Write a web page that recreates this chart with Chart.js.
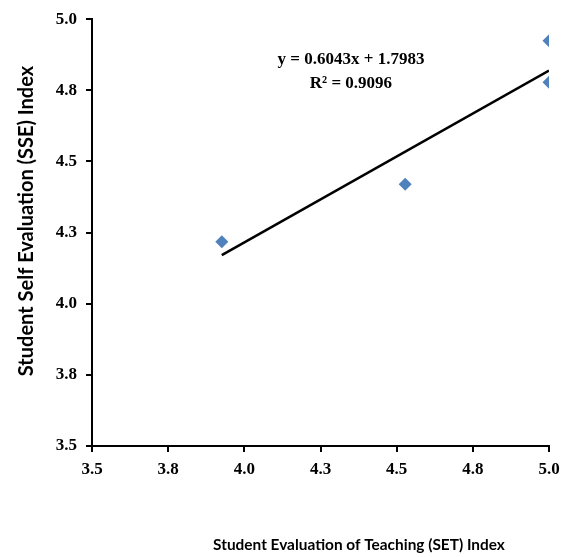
<!DOCTYPE html>
<html>
<head>
<meta charset="utf-8">
<script src="https://cdn.jsdelivr.net/npm/chart.js@4/dist/chart.umd.min.js"></script>
<style>
  html, body { margin: 0; padding: 0; background: #ffffff; }
  #wrap { width: 567px; height: 557px; position: relative; }
</style>
</head>
<body>
<div id="wrap"><canvas id="c" width="567" height="557"></canvas></div>
<script>
// Observations: SET index (x) against SSE index (y)
const setIndex = [3.926, 4.528, 5.0, 5.0];
const sseIndex = [4.218, 4.42, 4.924, 4.778];

// Linear trendline coefficients and fit quality
const trendSlope = 0.6043;
const trendIntercept = 1.7983;
const trendR2 = 0.9096;

// Axis tick labels (steps of 0.25 shown to one decimal)
const xTickLabels = ['3.5', '3.8', '4.0', '4.3', '4.5', '4.8', '5.0'];
const yTickLabels = ['3.5', '3.8', '4.0', '4.3', '4.5', '4.8', '5.0'];

const xTitle = 'Student Evaluation of Teaching (SET) Index';
const yTitle = 'Student Self Evaluation (SSE) Index';

const points = setIndex.map((x, i) => ({ x: x, y: sseIndex[i] }));
const xMin = Math.min(...setIndex);
const xMax = Math.max(...setIndex);
const trendPoints = [xMin, xMax].map(x => ({ x: x, y: trendSlope * x + trendIntercept }));

const eqText = 'y = ' + trendSlope.toFixed(4) + 'x + ' + trendIntercept.toFixed(4);
const r2Text = 'R\u00B2 = ' + trendR2.toFixed(4);

const tickFont = { family: '"Liberation Serif", "Times New Roman", serif', size: 17, weight: 'bold' };

// Axis titles and the trendline equation
const annotations = {
  id: 'annotations',
  afterDraw(chart) {
    const ctx = chart.ctx;
    const xs = chart.scales.x, ys = chart.scales.y;
    ctx.save();
    ctx.fillStyle = '#000000';
    ctx.textAlign = 'center';
    ctx.textBaseline = 'middle';

    ctx.font = 'bold 15.4px Lato, "Open Sans", sans-serif';
    ctx.fillText(xTitle, 359, 545);

    ctx.save();
    ctx.translate(27, 221);
    ctx.rotate(-Math.PI / 2);
    ctx.font = 'bold 20px Lato, "Open Sans", sans-serif';
    ctx.fillText(yTitle, 0, 0);
    ctx.restore();

    ctx.font = 'bold 17px "Liberation Serif", "Times New Roman", serif';
    const ex = xs.getPixelForValue(4.35);
    ctx.fillText(eqText, ex, ys.getPixelForValue(4.858));
    ctx.fillText(r2Text, ex, ys.getPixelForValue(4.773));
    ctx.restore();
  }
};

new Chart(document.getElementById('c'), {
  type: 'scatter',
  data: {
    datasets: [
      {
        label: 'SSE',
        data: points,
        pointStyle: 'rectRot',
        pointRadius: 6.5,
        pointHoverRadius: 6.5,
        backgroundColor: '#4F81BD',
        borderColor: '#4F81BD',
        borderWidth: 0,
        order: 1
      },
      {
        label: 'Linear (SSE)',
        type: 'line',
        data: trendPoints,
        borderColor: '#000000',
        borderWidth: 2.5,
        pointRadius: 0,
        fill: false,
        order: 2
      }
    ]
  },
  options: {
    responsive: false,
    animation: false,
    events: [],
    layout: { padding: { top: 19, right: 18, left: 0, bottom: 0 } },
    plugins: {
      legend: { display: false },
      tooltip: { enabled: false }
    },
    scales: {
      x: {
        type: 'linear',
        min: 3.5,
        max: 5.0,
        afterFit(scale) { scale.height = 111; },
        afterBuildTicks(scale) {
          scale.ticks = xTickLabels.map((_, i) => ({ value: 3.5 + 0.25 * i }));
        },
        ticks: {
          color: '#000000',
          font: tickFont,
          padding: 7,
          maxRotation: 0,
          autoSkip: false,
          callback: (v, i) => xTickLabels[i]
        },
        grid: { drawOnChartArea: false, drawTicks: true, tickLength: 6, color: '#000000', lineWidth: 2 },
        border: { display: true, color: '#000000', width: 2 }
      },
      y: {
        type: 'linear',
        min: 3.5,
        max: 5.0,
        afterFit(scale) { scale.width = 92; },
        afterBuildTicks(scale) {
          scale.ticks = yTickLabels.map((_, i) => ({ value: 3.5 + 0.25 * i }));
        },
        ticks: {
          color: '#000000',
          font: tickFont,
          padding: 9,
          autoSkip: false,
          callback: (v, i) => yTickLabels[i]
        },
        grid: { drawOnChartArea: false, drawTicks: true, tickLength: 6, color: '#000000', lineWidth: 2 },
        border: { display: true, color: '#000000', width: 2 }
      }
    }
  },
  plugins: [annotations]
});
</script>
</body>
</html>
